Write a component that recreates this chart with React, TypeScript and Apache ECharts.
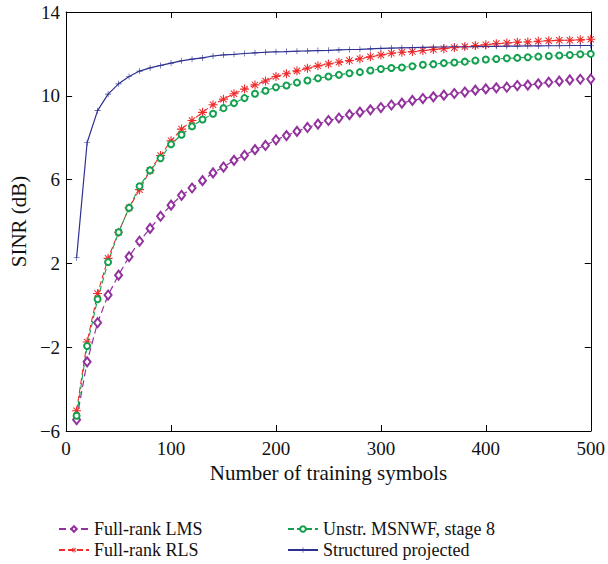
import React, { useEffect, useRef } from "react";
import * as echarts from "echarts";

const xValues = [10, 20, 30, 40, 50, 60, 70, 80, 90, 100, 110, 120, 130, 140, 150, 160, 170, 180, 190, 200, 210, 220, 230, 240, 250, 260, 270, 280, 290, 300, 310, 320, 330, 340, 350, 360, 370, 380, 390, 400, 410, 420, 430, 440, 450, 460, 470, 480, 490, 500];

const lmsValues = [-5.46, -2.7, -0.83, 0.49, 1.44, 2.32, 3.06, 3.67, 4.25, 4.78, 5.25, 5.6, 5.95, 6.32, 6.6, 6.92, 7.16, 7.43, 7.63, 7.9, 8.1, 8.3, 8.49, 8.65, 8.82, 8.94, 9.1, 9.22, 9.33, 9.44, 9.56, 9.65, 9.78, 9.87, 9.95, 10.03, 10.11, 10.18, 10.27, 10.33, 10.38, 10.41, 10.49, 10.51, 10.57, 10.65, 10.7, 10.76, 10.79, 10.8];

const rlsValues = [-5.03, -1.75, 0.56, 2.24, 3.49, 4.65, 5.52, 6.44, 7.15, 7.85, 8.41, 8.82, 9.21, 9.57, 9.84, 10.1, 10.32, 10.52, 10.71, 10.92, 11.05, 11.19, 11.32, 11.43, 11.52, 11.6, 11.68, 11.77, 11.86, 11.95, 12.03, 12.08, 12.11, 12.16, 12.21, 12.25, 12.3, 12.35, 12.4, 12.44, 12.49, 12.52, 12.56, 12.57, 12.6, 12.63, 12.65, 12.65, 12.67, 12.7];

const msnwfValues = [-5.27, -1.94, 0.29, 2.06, 3.49, 4.65, 5.68, 6.44, 7.02, 7.69, 8.14, 8.54, 8.87, 9.14, 9.41, 9.65, 9.89, 10.1, 10.24, 10.41, 10.49, 10.63, 10.73, 10.84, 10.92, 11.0, 11.08, 11.13, 11.21, 11.28, 11.33, 11.35, 11.41, 11.48, 11.51, 11.56, 11.59, 11.63, 11.68, 11.73, 11.76, 11.79, 11.81, 11.84, 11.87, 11.9, 11.92, 11.95, 11.98, 12.0];

const structuredValues = [2.27, 7.76, 9.29, 10.08, 10.57, 10.92, 11.18, 11.33, 11.45, 11.56, 11.67, 11.75, 11.81, 11.9, 11.95, 11.98, 12.02, 12.05, 12.08, 12.1, 12.11, 12.13, 12.14, 12.16, 12.17, 12.19, 12.21, 12.22, 12.24, 12.26, 12.28, 12.29, 12.3, 12.31, 12.32, 12.33, 12.34, 12.34, 12.35, 12.36, 12.36, 12.37, 12.37, 12.38, 12.38, 12.39, 12.39, 12.4, 12.4, 12.4];

const seriesNames = ["Full-rank LMS", "Full-rank RLS", "Unstr. MSNWF, stage 8", "Structured projected"];
const xTicks = [0, 100, 200, 300, 400, 500];
const yTicks = [-6, -2, 2, 6, 10, 14];

const FONT = "'Liberation Serif', 'DejaVu Serif', serif";
const ASTERISK =
  "path://M0 4.4L10 4.4L10 5.6L0 5.6ZM4.4 0L5.6 0L5.6 10L4.4 10ZM1.1 1.9L1.9 1.1L8.9 8.1L8.1 8.9ZM8.1 1.1L8.9 1.9L1.9 8.9L1.1 8.1Z";
const PLUS = "path://M0 4.5L10 4.5L10 5.5L0 5.5ZM4.5 0L5.5 0L5.5 10L4.5 10Z";

function pairs(vals: number[]) {
  return xValues.map((x, i) => [x, vals[i]]);
}

const minusFmt = (v: number) => String(v).replace("-", "\u2212");

export default function App() {
  const ref = useRef<HTMLDivElement>(null);
  useEffect(() => {
    if (!ref.current) return;
    const chart = echarts.init(ref.current, null, { renderer: "svg" });
    const axisCommon = {
      axisLine: { show: true, onZero: false, lineStyle: { color: "#000", width: 1 } },
      axisTick: { show: true, inside: true, length: 6, lineStyle: { color: "#000", width: 1 } },
      splitLine: { show: false },
    };
    const legendPos = [
      { left: 58, top: 520 },
      { left: 58, top: 541 },
      { left: 287, top: 520 },
      { left: 287, top: 541 },
    ];
    chart.setOption({
      animation: false,
      backgroundColor: "#fff",
      grid: { left: 63, right: 15, top: 12, bottom: 133, show: false },
      xAxis: [
        {
          type: "value",
          min: xTicks[0],
          max: xTicks[xTicks.length - 1],
          interval: 100,
          position: "bottom",
          name: "Number of training symbols",
          nameLocation: "middle",
          nameGap: 24,
          nameTextStyle: { fontFamily: FONT, fontSize: 21, color: "#111" },
          axisLabel: { fontFamily: FONT, fontSize: 19, color: "#111", margin: 8 },
          ...axisCommon,
        },
        {
          type: "value",
          min: xTicks[0],
          max: xTicks[xTicks.length - 1],
          interval: 100,
          position: "top",
          axisLabel: { show: false },
          ...axisCommon,
        },
      ],
      yAxis: [
        {
          type: "value",
          min: yTicks[0],
          max: yTicks[yTicks.length - 1],
          interval: 4,
          position: "left",
          name: "SINR (dB)",
          nameLocation: "middle",
          nameGap: 36,
          nameTextStyle: { fontFamily: FONT, fontSize: 21, color: "#111" },
          axisLabel: { fontFamily: FONT, fontSize: 19, color: "#111", margin: 6, formatter: minusFmt },
          ...axisCommon,
        },
        {
          type: "value",
          min: yTicks[0],
          max: yTicks[yTicks.length - 1],
          interval: 4,
          position: "right",
          axisLabel: { show: false },
          ...axisCommon,
        },
      ],
      legend: seriesNames.map((n, i) => ({
        data: [n],
        orient: "horizontal",
        left: legendPos[i].left,
        top: legendPos[i].top,
        padding: 0,
        itemWidth: 30,
        itemHeight: 7,
        textStyle: { fontFamily: FONT, fontSize: 18, color: "#111" },
      })),
      series: [
        {
          name: seriesNames[0],
          type: "line",
          data: pairs(lmsValues),
          symbol: "emptyDiamond",
          symbolSize: [7, 9],
          color: "#93329E",
          itemStyle: { color: "#93329E", borderWidth: 1 },
          lineStyle: { color: "#93329E", width: 1.2, type: [7, 4] },
        },
        {
          name: seriesNames[1],
          type: "line",
          data: pairs(rlsValues),
          symbol: ASTERISK,
          symbolSize: 9,
          color: "#EE2C2C",
          itemStyle: { color: "#EE2C2C" },
          lineStyle: { color: "#EE2C2C", width: 1.1, type: [6, 3] },
        },
        {
          name: seriesNames[2],
          type: "line",
          data: pairs(msnwfValues),
          symbol: "emptyCircle",
          symbolSize: 6,
          color: "#13A04F",
          itemStyle: { color: "#13A04F", borderWidth: 1.1 },
          lineStyle: { color: "#13A04F", width: 1.1, type: [6, 3] },
        },
        {
          name: seriesNames[3],
          type: "line",
          data: pairs(structuredValues),
          symbol: PLUS,
          symbolSize: 6,
          color: "#2E3192",
          itemStyle: { color: "#2E3192" },
          lineStyle: { color: "#2E3192", width: 1.2 },
        },
      ],
    });
    return () => chart.dispose();
  }, []);
  return <div ref={ref} style={{ width: 608, height: 564, position: "absolute", left: 0, top: 0 }} />;
}
